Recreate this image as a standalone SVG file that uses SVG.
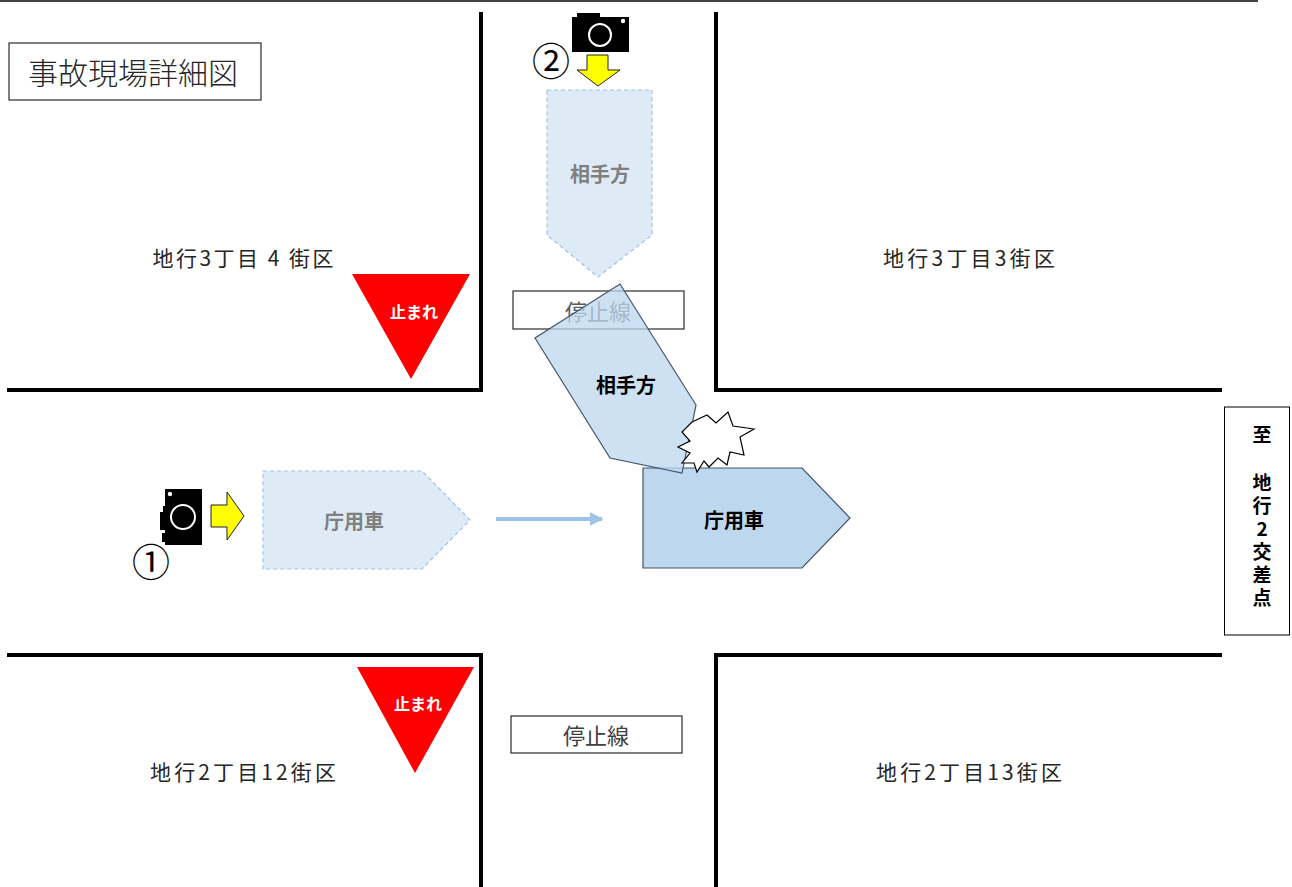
<svg xmlns="http://www.w3.org/2000/svg" width="1292" height="887" viewBox="0 0 1292 887">
<defs>
<style>
text{font-family:"Noto Sans CJK JP","Noto Sans",sans-serif;dominant-baseline:central;text-anchor:middle}
.road{stroke:#000;stroke-width:4;fill:none;stroke-linecap:butt}
.lbl{font-size:21px;fill:#262626}
.box{fill:#fff;stroke:#000;stroke-width:1}
.ghost{fill:#deebf7;stroke:#9dc3e6;stroke-width:1.2;stroke-dasharray:4 3}
.ghostt{font-size:20px;font-weight:bold;fill:#7f7f7f}
.car{fill:#bdd7ee;stroke:#44546a;stroke-width:1.2}
.cart{font-size:20px;font-weight:bold;fill:#000}
.stop{fill:#ff0000}
.stopt{font-size:16px;font-weight:bold;fill:#fff}
.yel{fill:#ffff00;stroke:#222;stroke-width:1}
.num{font-size:38px;fill:#000}
</style>
<marker id="ah" viewBox="0 0 10 10" refX="9" refY="5" markerWidth="3.4" markerHeight="3.4" orient="auto">
<path d="M0,0 L10,5 L0,10 z" fill="#9dc3e6"/>
</marker>
</defs>
<rect width="1292" height="887" fill="#fff"/>
<line x1="0" y1="1" x2="1258" y2="1" stroke="#000" stroke-width="1.5"/>

<g id="roads">
<polyline class="road" points="481,12 481,390 7,390"/>
<polyline class="road" points="716,12 716,390 1222,390"/>
<polyline class="road" points="7,655 481,655 481,887"/>
<polyline class="road" points="1222,655 716,655 716,887"/>
</g>

<g id="title">
<rect class="box" x="9" y="43" width="252" height="57"/>
<text x="133" y="71" style="font-size:30px;font-weight:300;fill:#262626">事故現場詳細図</text>
</g>

<g id="block-labels">
<text class="lbl" x="243" y="257" textLength="181" lengthAdjust="spacing">地行3丁目 4 街区</text>
<text class="lbl" x="969" y="257" textLength="172" lengthAdjust="spacing">地行3丁目3街区</text>
<text class="lbl" x="243" y="771" textLength="186" lengthAdjust="spacing">地行2丁目12街区</text>
<text class="lbl" x="969" y="771" textLength="186" lengthAdjust="spacing">地行2丁目13街区</text>
</g>

<g id="stop-sign-top">
<polygon class="stop" points="352,274 470,274 411,379"/>
<text class="stopt" x="414" y="311">止まれ</text>
</g>
<g id="stop-sign-bottom">
<polygon class="stop" points="357,667 474,667 415,773"/>
<text class="stopt" x="418" y="703">止まれ</text>
</g>

<g id="stopline-bottom">
<rect class="box" x="511" y="716" width="171" height="37"/>
<text x="596" y="734" style="font-size:22px;fill:#404040">停止線</text>
</g>

<g id="destination">
<rect class="box" x="1224.5" y="407" width="65" height="228"/>
<text x="1262" y="433" style="font-size:19px;font-weight:bold;fill:#000">至</text>
<text x="1262" y="473" style="font-size:19px;font-weight:bold;fill:#000;writing-mode:vertical-rl;text-orientation:upright;text-anchor:start;letter-spacing:4px">地行2交差点</text>
</g>

<g id="ghost-opponent">
<polygon class="ghost" points="547,90 652,90 652,235 598,277 547,235"/>
<text class="ghostt" x="600" y="173">相手方</text>
</g>

<g id="ghost-official-car">
<polygon class="ghost" points="263,471 422,471 470,520 422,569 263,569"/>
<text class="ghostt" x="354" y="520">庁用車</text>
</g>

<g id="connectors">
<line x1="496" y1="519" x2="602" y2="519" stroke="#9dc3e6" stroke-width="4" marker-end="url(#ah)"/>
</g>

<g id="stopline-top">
<rect class="box" x="513" y="291" width="171" height="38"/>
<text x="598" y="310" style="font-size:22px;fill:#595959">停止線</text>
</g>

<g id="official-car">
<polygon class="car" points="643,468 802,468 850,518 802,568 643,568"/>
<text class="cart" x="734" y="519">庁用車</text>
</g>

<g id="opponent-car">
<polygon class="car" style="fill-opacity:0.75" points="620,284 696,405 682,473 610,458 535,338"/>
<text class="cart" x="626" y="384">相手方</text>
</g>

<g id="impact">
<polygon fill="#fff" stroke="#000" stroke-width="1.2" points="692,422 707,415 716,423 728,412 733,426 754,429 740,437 744,455 730,452 727,465 718,458 709,467 704,461 697,472 694,463 682,463 690,453 678,447 690,441 682,432"/>
</g>

<g id="camera-2">
<path fill="#000" d="M572,17 H577 V13 H600 V17 H629 V52 H572 Z"/>
<circle cx="600" cy="35" r="11" fill="none" stroke="#fff" stroke-width="2"/>
<circle cx="623" cy="21" r="2.2" fill="#fff"/>
<polygon class="yel" points="587,55 608,55 608,70 620,70 598,86 577,70 587,70"/>
<text class="num" x="551" y="58">②</text>
</g>

<g id="camera-1">
<path fill="#000" d="M165,489 H202 V545 H165 V542 H162 V533 H165 V530 H160 V512 H163 V506 H165 Z"/>
<circle cx="183" cy="517" r="12" fill="none" stroke="#fff" stroke-width="2"/>
<circle cx="170" cy="494" r="2.2" fill="#fff"/>
<polygon class="yel" points="211,505 227,505 227,492 244,516 227,540 227,527 211,527"/>
<text class="num" x="151" y="559">①</text>
</g>
</svg>
